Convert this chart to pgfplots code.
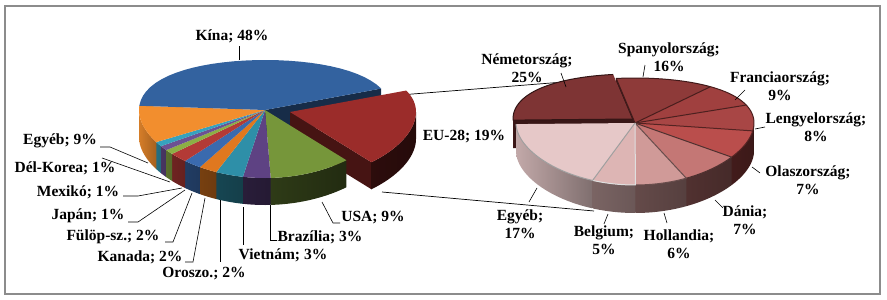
\documentclass[border=0pt]{standalone}
\usepackage{fontspec}
\setmainfont{Liberation Serif}
\usepackage{pgfplots}
\pgfplotsset{compat=1.18}

\definecolor{kina}{HTML}{33629F}
\definecolor{eu}{HTML}{9B2C2A}
\definecolor{usa}{HTML}{76963A}
\definecolor{bra}{HTML}{5E4283}
\definecolor{vie}{HTML}{2E8FA8}
\definecolor{oro}{HTML}{E0781F}
\definecolor{kan}{HTML}{3A6AAE}
\definecolor{ful}{HTML}{B33A36}
\definecolor{jap}{HTML}{8CAF45}
\definecolor{mex}{HTML}{6C5193}
\definecolor{dko}{HTML}{36A2BE}
\definecolor{egy}{HTML}{F28E2E}
\definecolor{nem}{HTML}{7E3434}
\definecolor{spa}{HTML}{8E3A39}
\definecolor{fra}{HTML}{A0403F}
\definecolor{len}{HTML}{A84645}
\definecolor{ola}{HTML}{BA4E4C}
\definecolor{dan}{HTML}{C47775}
\definecolor{hol}{HTML}{D09A98}
\definecolor{bel}{HTML}{DDB5B4}
\definecolor{egyb}{HTML}{E6C8C8}

% value / colour / exploded (1: cut face at end, 2: cut face at start) / border
\def\Ldata{19/eu/1/none,9/usa/0/none,3/bra/0/none,3/vie/0/none,2/oro/0/none,2/kan/0/none,2/ful/0/none,1/jap/0/none,1/mex/0/none,1/dko/0/none,9/egy/0/none,48/kina/0/none}
\def\Rdata{16/spa/0/spa!45!black,9/fra/0/fra!45!black,8/len/0/len!45!black,7/ola/0/ola!45!black,7/dan/0/dan!40!black,6/hol/0/hol!50!black,5/bel/0/white!75!gray,17/egyb/0/gray!75,25/nem/2/nem!40!black}

\newcommand\setpie[8]{\def\pcx{#1}\def\pcy{#2}\def\prx{#3}\def\pa{#4}\def\pb{#5}\def\pd{#6}\def\pS{#7}\def\pK{#8}}
\newcommand\angles[2]{%
  \pgfmathsetmacro\tha{\pS-3.6*(#1)}%
  \pgfmathsetmacro\thb{\pS-3.6*(#1+#2)}%
  \pgfmathsetmacro\pha{\tha+\pK*cos(\tha)}%
  \pgfmathsetmacro\phb{\thb+\pK*cos(\thb)}%
}
\newcommand\drawtop[5]{%
 \edef\next{\noexpand\addplot[fill=#3, draw=\tbcol, line width=\tblw, line join=round, samples at={-1,0,...,30}]
   ({\pcx+#4+(x<0?0:1)*\prx*cos(#1+(#2-#1)*x/30)},
    {\pcy+#5-(x<0?0:1)*(\pa*sin(#1+(#2-#1)*x/30)-\pb*(sin(#1+(#2-#1)*x/30))^2)});}%
 \next}
\newcommand\drawwall[5]{%
 \pgfmathsetmacro\fl{\fA+\fB*max(-(#1)/180,0.001)^\fP}%
 \pgfmathsetmacro\fr{\fA+\fB*max(-(#2)/180,0.001)^\fP}%
 \edef\next{\noexpand\addplot[draw=none, left color=#3!\fl!black, right color=#3!\fr!black, samples at={0,...,41}]
  ({\pcx+#4+\prx*cos(#1+(#2-#1)*(x<20.5?x/20:(41-x)/20))},
   {\pcy+#5-(\pa*sin(#1+(#2-#1)*(x<20.5?x/20:(41-x)/20))-\pb*(sin(#1+(#2-#1)*(x<20.5?x/20:(41-x)/20)))^2)+(x>20.5?\pd:0)});}%
 \next}
\newcommand\drawcut[4]{%
 \edef\next{\noexpand\addplot[fill=#2, draw=none, samples at={0,1,2,3}]
  ({\pcx+#3+min(1,x,3-x)*\prx*cos(#1)},
   {\pcy+#4-min(1,x,3-x)*(\pa*sin(#1)-\pb*(sin(#1))^2)+(x>1.5?\pd:0)});}%
 \next}
\newcommand\piepass[2]{%
 \gdef\cum{0}%
 \foreach \v/\c/\e/\bd in #1 {%
   \angles{\cum}{\v}%
   \pgfmathsetmacro\nc{\cum+\v}\global\let\cum\nc
   \pgfmathsetmacro\lo{max(\phb,-180)}%
   \pgfmathsetmacro\hi{min(\pha,0)}%
   \ifx A#2
     \ifnum\e>0
       \ifnum\e=1 \drawcut{\phb}{\c!45!black}{\pox}{\poy}\else\drawcut{\pha}{\c!45!black}{\pox}{\poy}\fi
       \ifdim\hi pt>\lo pt \drawwall{\lo}{\hi}{\c}{\pox}{\poy}\fi
       \edef\tbcol{\bd}\def\tblw{1pt}%
       \drawtop{\pha}{\phb}{\c}{\pox}{\poy}%
     \fi
   \fi
   \ifx B#2 \ifnum\e=0 \ifdim\hi pt>\lo pt \drawwall{\lo}{\hi}{\c}{0}{0}\fi\fi\fi
   \ifx C#2 \ifnum\e=0 \edef\tbcol{\bd}\def\tblw{1pt}\drawtop{\pha}{\phb}{\c}{0}{0}\fi\fi
 }}

\newcommand\lbl{\bfseries\fontsize{15.5}{17.5}\selectfont}

\begin{document}
\begin{tikzpicture}
\begin{axis}[width=887pt,height=300pt,scale only axis,xmin=0,xmax=887,ymin=0,ymax=300,
  y dir=reverse,hide axis,clip=false]
\path (axis cs:0,0) rectangle (axis cs:887,300);
\draw[color=black!45, line width=1.3pt] (axis cs:5,6) rectangle (axis cs:880,294);

% connector lines
\addplot[black, line width=0.7pt] coordinates {(400,95) (614,78)};
\addplot[black, line width=0.7pt] coordinates {(382,192) (594,211)};

% left pie
\setpie{265}{110}{126}{59}{9}{27}{13}{10}
\def\fA{24}\def\fB{64}\def\fP{2}
\def\pox{25}\def\poy{2}
\pgfmathsetmacro\phs{\pS+\pK*cos(\pS)}
\drawcut{\phs}{kina!45!black}{0}{0}
\piepass{\Ldata}{A}
\piepass{\Ldata}{B}
\piepass{\Ldata}{C}

% right pie
\setpie{635}{123}{119}{53.5}{8.5}{28}{101}{10}
\def\fA{32}\def\fB{53}\def\fP{1.7}
\def\pox{-3}\def\poy{-4}
\pgfmathsetmacro\phs{\pS+\pK*cos(\pS)}
\drawcut{\phs}{spa!40!black}{0}{0}
\piepass{\Rdata}{A}
\piepass{\Rdata}{B}
\piepass{\Rdata}{C}

% leaders
\addplot[black, line width=0.6pt] coordinates {(239,46) (239,60)};
\addplot[black, line width=0.6pt] coordinates {(322,202) (333,223) (340,223)};
\addplot[black, line width=0.6pt] coordinates {(270,205) (270,240) (277,240)};
\addplot[black, line width=0.6pt] coordinates {(243,207) (243,245)};
\addplot[black, line width=0.6pt] coordinates {(220,200) (220,262)};
\addplot[black, line width=0.6pt] coordinates {(205,198) (193,262) (185,262)};
\addplot[black, line width=0.6pt] coordinates {(192,193) (173,242) (165,242)};
\addplot[black, line width=0.6pt] coordinates {(185,190) (138,222) (128,222)};
\addplot[black, line width=0.6pt] coordinates {(182,188) (138,196) (123,196)};
\addplot[black, line width=0.6pt] coordinates {(170,182) (102,158)};
\addplot[black, line width=0.6pt] coordinates {(148,163) (110,147) (100,147)};
\addplot[black, line width=0.6pt] coordinates {(561,73) (566,87)};
\addplot[black, line width=0.6pt] coordinates {(645,65) (643,77)};
\addplot[black, line width=0.6pt] coordinates {(745,90) (735,100)};
\addplot[black, line width=0.6pt] coordinates {(765,127) (755,129)};
\addplot[black, line width=0.6pt] coordinates {(760,173) (752,167)};
\addplot[black, line width=0.6pt] coordinates {(723,208) (715,200)};
\addplot[black, line width=0.6pt] coordinates {(667,223) (664,213)};
\addplot[black, line width=0.6pt] coordinates {(604,224) (608,214)};
\addplot[black, line width=0.6pt] coordinates {(529,202) (537,188)};

% labels
\tikzset{lab/.style={font=\lbl, inner sep=0pt, align=center}}
\node[lab] at (axis cs:232,36) {Kína; 48\%};
\node[lab] at (axis cs:464,137) {EU-28; 19\%};
\node[lab] at (axis cs:373,218) {USA; 9\%};
\node[lab] at (axis cs:320,237) {Brazília; 3\%};
\node[lab] at (axis cs:283,255) {Vietnám; 3\%};
\node[lab] at (axis cs:204,274) {Oroszo.; 2\%};
\node[lab] at (axis cs:140,257) {Kanada; 2\%};
\node[lab] at (axis cs:113,237) {Fülöp-sz.; 2\%};
\node[lab] at (axis cs:88,216) {Japán; 1\%};
\node[lab] at (axis cs:78,192) {Mexikó; 1\%};
\node[lab] at (axis cs:65,168) {Dél-Korea; 1\%};
\node[lab] at (axis cs:60,141) {Egyéb; 9\%};
\node[lab] at (axis cs:527,68) {Németország;\\25\%};
\node[lab] at (axis cs:669,57) {Spanyolország;\\16\%};
\node[lab] at (axis cs:780,86) {Franciaország;\\9\%};
\node[lab] at (axis cs:816,127) {Lengyelország;\\8\%};
\node[lab] at (axis cs:808,180) {Olaszország;\\7\%};
\node[lab] at (axis cs:745,220) {Dánia;\\7\%};
\node[lab] at (axis cs:679,244) {Hollandia;\\6\%};
\node[lab] at (axis cs:604,240) {Belgium;\\5\%};
\node[lab] at (axis cs:520,224) {Egyéb;\\17\%};
\end{axis}
\end{tikzpicture}
\end{document}
